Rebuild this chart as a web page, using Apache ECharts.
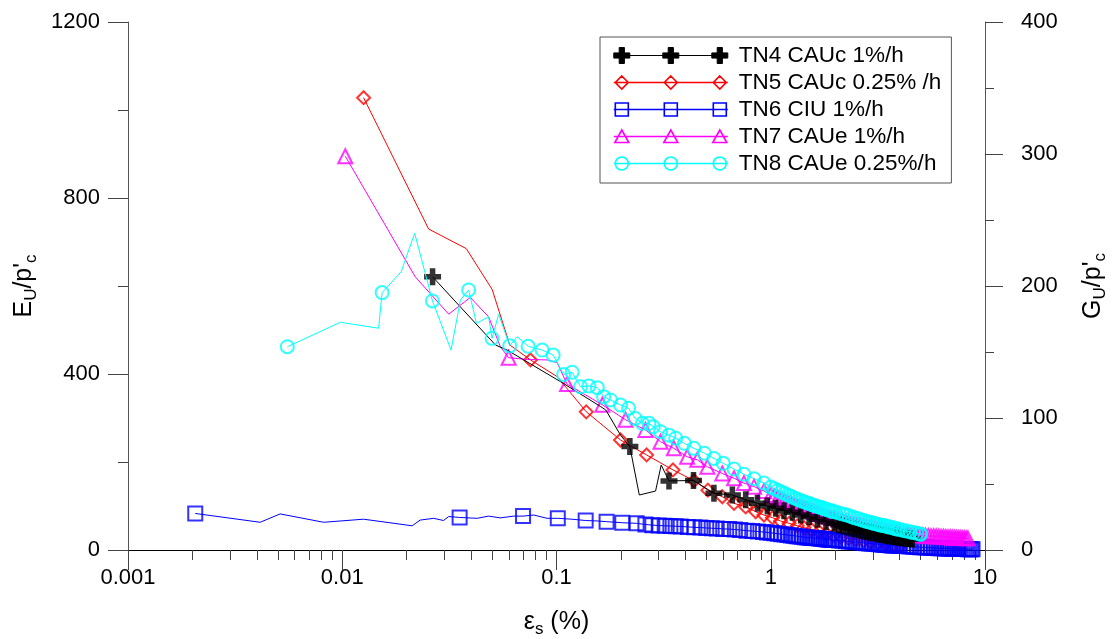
<!DOCTYPE html>
<html><head><meta charset="utf-8">
<script src="https://cdn.jsdelivr.net/npm/echarts@6/dist/echarts.min.js"></script>
<style>html,body{margin:0;padding:0;background:#fff}#c{width:1112px;height:639px}</style>
</head><body><div id="c"></div>
<script>
// ---- axis ticks ----
const xRange = [0.001, 10];
const leftTicks = [0, 400, 800, 1200];
const rightTicks = [0, 100, 200, 300, 400];
const xMinorBase = [2, 3, 4, 5, 6, 7, 8, 9];
const xMinorDecades = [0.001, 0.01, 0.1, 1];

// ---- series names ----
const names = ['TN4 CAUc 1%/h', 'TN5 CAUc 0.25% /h', 'TN6 CIU 1%/h', 'TN7 CAUe 1%/h', 'TN8 CAUe 0.25%/h'];

// ---- TN4 (marked points, and unmarked line vertices) ----
const tn4Marks = [[0.0264,621],[0.22,235],[0.335,157],[0.436,158],[0.543,129],[0.662,125],[0.764,114],[0.867,106],[0.964,100],[1.055,95],[1.153,89],[1.262,85.6],[1.38,79.5],[1.51,75.7],[1.65,69.7],[1.81,64.4],[1.98,60.6],[2.08,57.5],[2.18,54.5],[2.28,52],[2.38,49.5],[2.48,47.5],[2.58,45.5],[2.68,44],[2.78,42],[2.88,40.5],[2.98,39.5],[3.08,38],[3.18,36.5],[3.28,35.5],[3.38,34.5],[3.48,33],[3.58,32],[3.68,31],[3.78,30.5],[3.88,29.5],[3.98,28.5],[4.08,28],[4.18,27.5],[4.28,27],[4.38,26],[4.48,25.5],[4.58,25]];
const tn4Path = [[0.0519,466],[0.0588,454.5],[0.1045,382.5],[0.1607,326],[0.17,318],[0.199,261],[0.2435,125],[0.29,134],[0.308,193]];

// ---- TN5 ----
const tn5Marks = [[0.01258,1028],[0.0756,432],[0.1377,314],[0.199,250],[0.2634,216],[0.3497,182],[0.4385,157.5],[0.509,136],[0.594,121],[0.674,106],[0.764,98],[0.851,87],[0.93,79.5],[1.019,73.4],[1.11,66],[1.218,60.6],[1.33,55],[1.43,50.7],[1.55,46],[1.68,41.5],[1.82,37],[1.97,33],[2.13,29.5],[2.31,26.5],[2.5,23.5],[2.71,21],[2.93,18.5],[3.17,16.5],[3.44,14.5],[3.72,12.5],[4.03,11]];
const tn5Path = [[0.0253,729.5],[0.0379,685],[0.0501,592],[0.0605,466],[0.1007,394]];

// ---- TN6 ----
const tn6Marks = [[0.00206,83],[0.0353,74],[0.0698,77],[0.1014,72],[0.1368,67],[0.1713,64.4],[0.2027,62],[0.2366,60.6],[0.26,58],[0.28,56.5],[0.30,55.5],[0.32,55],[0.34,54.5],[0.36,54],[0.38,53.5],[0.41,52.5],[0.44,51.5],[0.47,51],[0.5,50],[0.53,49.5],[0.56,49],[0.6,48],[0.64,47.5],[0.68,46.5],[0.72,45.5],[0.77,44],[0.82,43],[0.87,42],[0.92,41],[0.96,40],
  [1.00,39],[1.04,38],[1.08,37],[1.12,36],[1.16,35],[1.20,34],[1.24,33],[1.28,32.5],[1.32,31.5],[1.36,30.5],[1.40,30],[1.44,29],[1.48,28.5],[1.52,28],[1.56,27.5],[1.60,27],[1.64,26.5],[1.68,26],[1.72,25.5],[1.76,25],[1.80,24.5],[1.84,24],[1.88,23.5],[1.92,23],[1.96,22.5],[2.00,22.5],
  [2.08,21.5],[2.16,21],[2.24,20],[2.32,19.5],[2.40,18.5],[2.48,18],[2.56,17.5],[2.64,17],[2.72,16],[2.80,15.5],[2.88,15],[2.96,14.5],[3.04,14],[3.12,13.5],[3.20,13],[3.28,12.5],[3.36,12],[3.44,11.5],[3.52,11.5],[3.60,11],[3.68,10.5],[3.76,10.5],[3.84,10],[3.92,10],[4.00,9.5],
  [4.16,9],[4.32,8.5],[4.48,8],[4.64,7.5],[4.80,7],[4.96,6.5],[5.12,6],[5.28,5.8],[5.44,5.5],[5.60,5],[5.76,4.8],[5.92,4.5],[6.08,4.2],[6.24,4],[6.40,3.8],[6.56,3.6],[6.72,3.4],[6.88,3.2],[7.04,3],[7.20,2.8],[7.36,2.6],[7.52,2.5],[7.68,2.4],[7.84,2.2],[8.00,2.1],[8.16,2],[8.32,1.9],[8.48,1.8],[8.64,1.8],[8.75,1.8]];
const tn6Path = [[0.00414,63],[0.00513,82],[0.00818,63],[0.01258,70],[0.0212,55],[0.0231,68],[0.0267,72],[0.0297,67],[0.0314,76],[0.0426,72],[0.0482,77],[0.0547,73],[0.0631,77],[0.0783,79.5],[0.0904,72],[0.118,70],[0.155,66]];

// ---- TN7 ----
const tn7Marks = [[0.01033,895],[0.0598,437],[0.112,377],[0.1637,330],[0.21,296],[0.26,273],[0.306,246],[0.353,231],[0.407,212],[0.454,205],[0.506,189],[0.594,174],[0.674,163],[0.75,152],[0.836,144],[0.93,134],
  [1.00,125],[1.04,121.5],[1.08,118.5],[1.12,115.5],[1.16,112.5],[1.20,110],[1.24,107.5],[1.28,105],[1.32,102.5],[1.36,100],[1.40,97.5],[1.44,95],[1.48,93],[1.52,91],[1.56,89],[1.60,86.5],[1.64,84],[1.68,82.5],[1.72,81],[1.76,79.5],[1.80,78],[1.84,76.5],[1.88,75],[1.92,73.5],[1.96,72.5],[2.00,71.5],
  [2.08,69.5],[2.16,67.5],[2.24,65.5],[2.32,63.5],[2.40,61.5],[2.48,60],[2.56,58.5],[2.64,57],[2.72,55.5],[2.80,54],[2.88,52.5],[2.96,51.5],[3.04,50.5],[3.12,49],[3.20,48],[3.28,47],[3.36,45.5],[3.44,44.5],[3.52,43.5],[3.60,42.5],[3.68,41.5],[3.76,40.5],[3.84,40],[3.92,39],[4.00,38.5],
  [4.16,37.5],[4.32,36.5],[4.48,35.5],[4.64,34.5],[4.80,34],[4.96,33.5],[5.12,33],[5.28,32.5],[5.44,32],[5.60,31.5],[5.76,31.5],[5.92,31],[6.08,30.5],[6.24,30],[6.40,30],[6.56,29.5],[6.72,29],[6.88,29],[7.04,28.5],[7.20,28],[7.36,28],[7.52,27.5],[7.68,27.5],[7.84,27],[8.00,27],[8.16,26.5],[8.32,26.5]];
const tn7Path = [[0.0219,621],[0.0314,536],[0.0396,574],[0.0482,530],[0.0547,462],[0.073,433],[0.0904,432],[0.1007,426]];

// ---- TN8 ----
const tn8Marks = [[0.00554,462],[0.01535,585],[0.02637,566],[0.0389,591],[0.05,481],[0.0605,464],[0.0737,463],[0.0857,454.5],[0.0965,443],[0.108,399],[0.1183,404],[0.1295,371],[0.1416,373],[0.155,369],[0.166,348.5],[0.1787,341],[0.199,329.5],[0.217,322],[0.233,299],[0.2516,288],[0.27,288],[0.283,280],[0.306,269],[0.335,261],[0.36,254],[0.395,242.5],[0.438,231],[0.49,220],[0.543,208],[0.6,197],[0.674,184],[0.75,172],[0.836,162],[0.93,152],
  [1.00,143],[1.04,139],[1.08,135.5],[1.12,132],[1.16,128.5],[1.20,125],[1.24,122],[1.28,119],[1.32,116],[1.36,113.5],[1.40,111],[1.44,109],[1.48,107],[1.52,105],[1.56,103],[1.60,101],[1.64,99.5],[1.68,98],[1.72,96.5],[1.76,95],[1.80,93],[1.84,91.5],[1.88,90],[1.92,89],[1.96,87.5],[2.00,86.5],
  [2.08,84],[2.16,82],[2.24,80],[2.32,78],[2.40,75],[2.48,73],[2.56,71],[2.64,69],[2.72,67],[2.80,65],[2.88,63.5],[2.96,62],[3.04,60.5],[3.12,59],[3.20,57.5],[3.28,56.5],[3.36,55.5],[3.44,54.5],[3.52,53],[3.60,52],[3.68,51],[3.76,49.5],[3.84,48.5],[3.92,47.5],[4.00,46.5],
  [4.16,44.5],[4.32,43],[4.48,41],[4.64,39.5],[4.80,38],[4.96,36.5],[5.02,36]];
const tn8Path = [[0.0098,517.5],[0.01478,504],[0.01884,632.5],[0.02178,720],[0.0322,454.5],[0.0356,568],[0.0423,515],[0.0482,530],[0.0537,536],[0.0655,485]];

// ---- styling ----
const colors = ['#000000', '#ff0000', '#0000ff', '#ff00ff', '#00ffff'];
const drawOrder = [1, 2, 3, 0, 4];   // TN4 drawn above TN6/TN7, TN8 on top
const FONT = 'Liberation Sans, Arial, sans-serif';
const plusPath = 'path://M-2.6,-8L2.6,-8L2.6,-2.6L8,-2.6L8,2.6L2.6,2.6L2.6,8L-2.6,8L-2.6,2.6L-8,2.6L-8,-2.6L-2.6,-2.6Z';
const symbols = [plusPath, 'diamond', 'rect', 'triangle', 'circle'];
const symSizes = [17, 13, 14, 14, 13];

function markerPath(kind, cx) {
  if (kind === 0) return `M${cx-2.6} 0L${cx+2.6} 0L${cx+2.6} 5.4L${cx+8} 5.4L${cx+8} 10.6L${cx+2.6} 10.6L${cx+2.6} 16L${cx-2.6} 16L${cx-2.6} 10.6L${cx-8} 10.6L${cx-8} 5.4L${cx-2.6} 5.4Z`;
  if (kind === 1) return `M${cx} 1.5L${cx+6.5} 8L${cx} 14.5L${cx-6.5} 8Z`;
  if (kind === 2) return `M${cx-6.5} 1.5L${cx+6.5} 1.5L${cx+6.5} 14.5L${cx-6.5} 14.5Z`;
  if (kind === 3) return `M${cx} 1.5L${cx+7} 14L${cx-7} 14Z`;
  return `M${cx-6.5} 8A6.5 6.5 0 1 0 ${cx+6.5} 8A6.5 6.5 0 1 0 ${cx-6.5} 8Z`;
}
function legendIcon(kind) {
  return 'path://M2 8L116 8' + markerPath(kind, 10) + markerPath(kind, 59) + markerPath(kind, 108) + 'M0 0M122 16';
}

const allMarks = [tn4Marks, tn5Marks, tn6Marks, tn7Marks, tn8Marks];
const allPaths = [tn4Path, tn5Path, tn6Path, tn7Path, tn8Path];

const series = [];
drawOrder.forEach((i, k) => {
  const n = names[i];
  const lineData = allMarks[i].concat(allPaths[i]).sort((a, b) => a[0] - b[0]);
  series.push({
    type: 'line', name: n, data: lineData, symbol: 'none', xAxisIndex: 0, yAxisIndex: 0, z: 2 + k * 0.01,
    lineStyle: { color: colors[i], width: 1 }, itemStyle: { color: colors[i] }, silent: true
  });
  series.push({
    type: 'scatter', name: n, data: allMarks[i], xAxisIndex: 0, yAxisIndex: 0, z: 2 + k * 0.01 + 0.005,
    symbol: symbols[i], symbolSize: symSizes[i],
    itemStyle: i === 0 ? { color: '#000' } : { color: 'rgba(0,0,0,0)', borderColor: colors[i], borderWidth: 2 },
    silent: true
  });
});

const minorLogTicks = [];
xMinorDecades.forEach(d => xMinorBase.forEach(b => minorLogTicks.push(Math.log10(b * d))));

const subRich = {
  n: { fontSize: 25, fontFamily: FONT, color: '#000', lineHeight: 32, verticalAlign: 'middle' },
  s: { fontSize: 17, fontFamily: FONT, color: '#000', lineHeight: 17, verticalAlign: 'bottom' }
};
const tickLabel = { fontSize: 22, fontFamily: FONT, color: '#000' };

const chart = echarts.init(document.getElementById('c'), null, { renderer: 'canvas' });
chart.setOption({
  animation: false,
  backgroundColor: '#fff',
  grid: { left: 128, right: 127, top: 22, bottom: 89, containLabel: false, outerBoundsMode: 'none' },
  legend: {
    orient: 'vertical', left: 600, top: 37,
    itemWidth: 122, itemHeight: 16, itemGap: 4,
    padding: [7, 10, 8, 11],
    borderColor: '#555', borderWidth: 1, backgroundColor: '#fff',
    selectedMode: false,
    textStyle: { fontSize: 22.5, fontFamily: FONT, color: '#000', lineHeight: 22 },
    data: names.map((n, i) => ({
      name: n, icon: legendIcon(i),
      itemStyle: i === 0 ? { color: '#000', borderColor: '#000', borderWidth: 1 } : { color: 'rgba(0,0,0,0)', borderColor: colors[i], borderWidth: 1.6 }
    }))
  },
  xAxis: [{
    type: 'log', logBase: 10, min: xRange[0], max: xRange[1], position: 'bottom',
    name: '{n|ε}{s|s}{n| (%)}', nameLocation: 'middle', nameGap: 56,
    nameTextStyle: { rich: subRich },
    axisLine: { show: true, onZero: false, lineStyle: { color: '#000', width: 1 } },
    axisTick: { show: true, inside: false, length: 20, lineStyle: { color: '#444' } },
    minorTick: { show: false },
    splitLine: { show: false },
    axisLabel: Object.assign({ margin: 17 }, tickLabel)
  }, {
    type: 'value', min: -3, max: 1, position: 'bottom',
    axisLine: { show: false, onZero: false },
    axisTick: { show: true, inside: false, length: 10, customValues: minorLogTicks, lineStyle: { color: '#444' } },
    axisLabel: { show: false }, splitLine: { show: false }
  }],
  yAxis: [{
    type: 'value', position: 'left', min: leftTicks[0], max: leftTicks[leftTicks.length - 1], interval: leftTicks[1] - leftTicks[0],
    name: "{n|E}{s|U}{n|/p'}{s|c}", nameLocation: 'middle', nameGap: 87, nameRotate: 90,
    nameTextStyle: { rich: subRich },
    axisLine: { show: true, onZero: false, lineStyle: { color: '#555', width: 1 } },
    axisTick: { show: true, inside: false, length: 20, lineStyle: { color: '#444' } },
    minorTick: { show: true, splitNumber: 2, length: 10, lineStyle: { color: '#444' } },
    splitLine: { show: false },
    axisLabel: Object.assign({ margin: 28, formatter: v => String(v) }, tickLabel)
  }, {
    type: 'value', position: 'right', min: rightTicks[0], max: rightTicks[rightTicks.length - 1], interval: rightTicks[1] - rightTicks[0],
    name: "{n|G}{s|U}{n|/p'}{s|c}", nameLocation: 'middle', nameGap: 92, nameRotate: 90,
    nameTextStyle: { rich: subRich },
    axisLine: { show: true, onZero: false, lineStyle: { color: '#555', width: 1 } },
    axisTick: { show: true, inside: false, length: 18, lineStyle: { color: '#444' } },
    minorTick: { show: true, splitNumber: 2, length: 9, lineStyle: { color: '#444' } },
    splitLine: { show: false },
    axisLabel: Object.assign({ margin: 36, formatter: v => String(v) }, tickLabel)
  }],
  series: series
});
</script>
</body></html>
